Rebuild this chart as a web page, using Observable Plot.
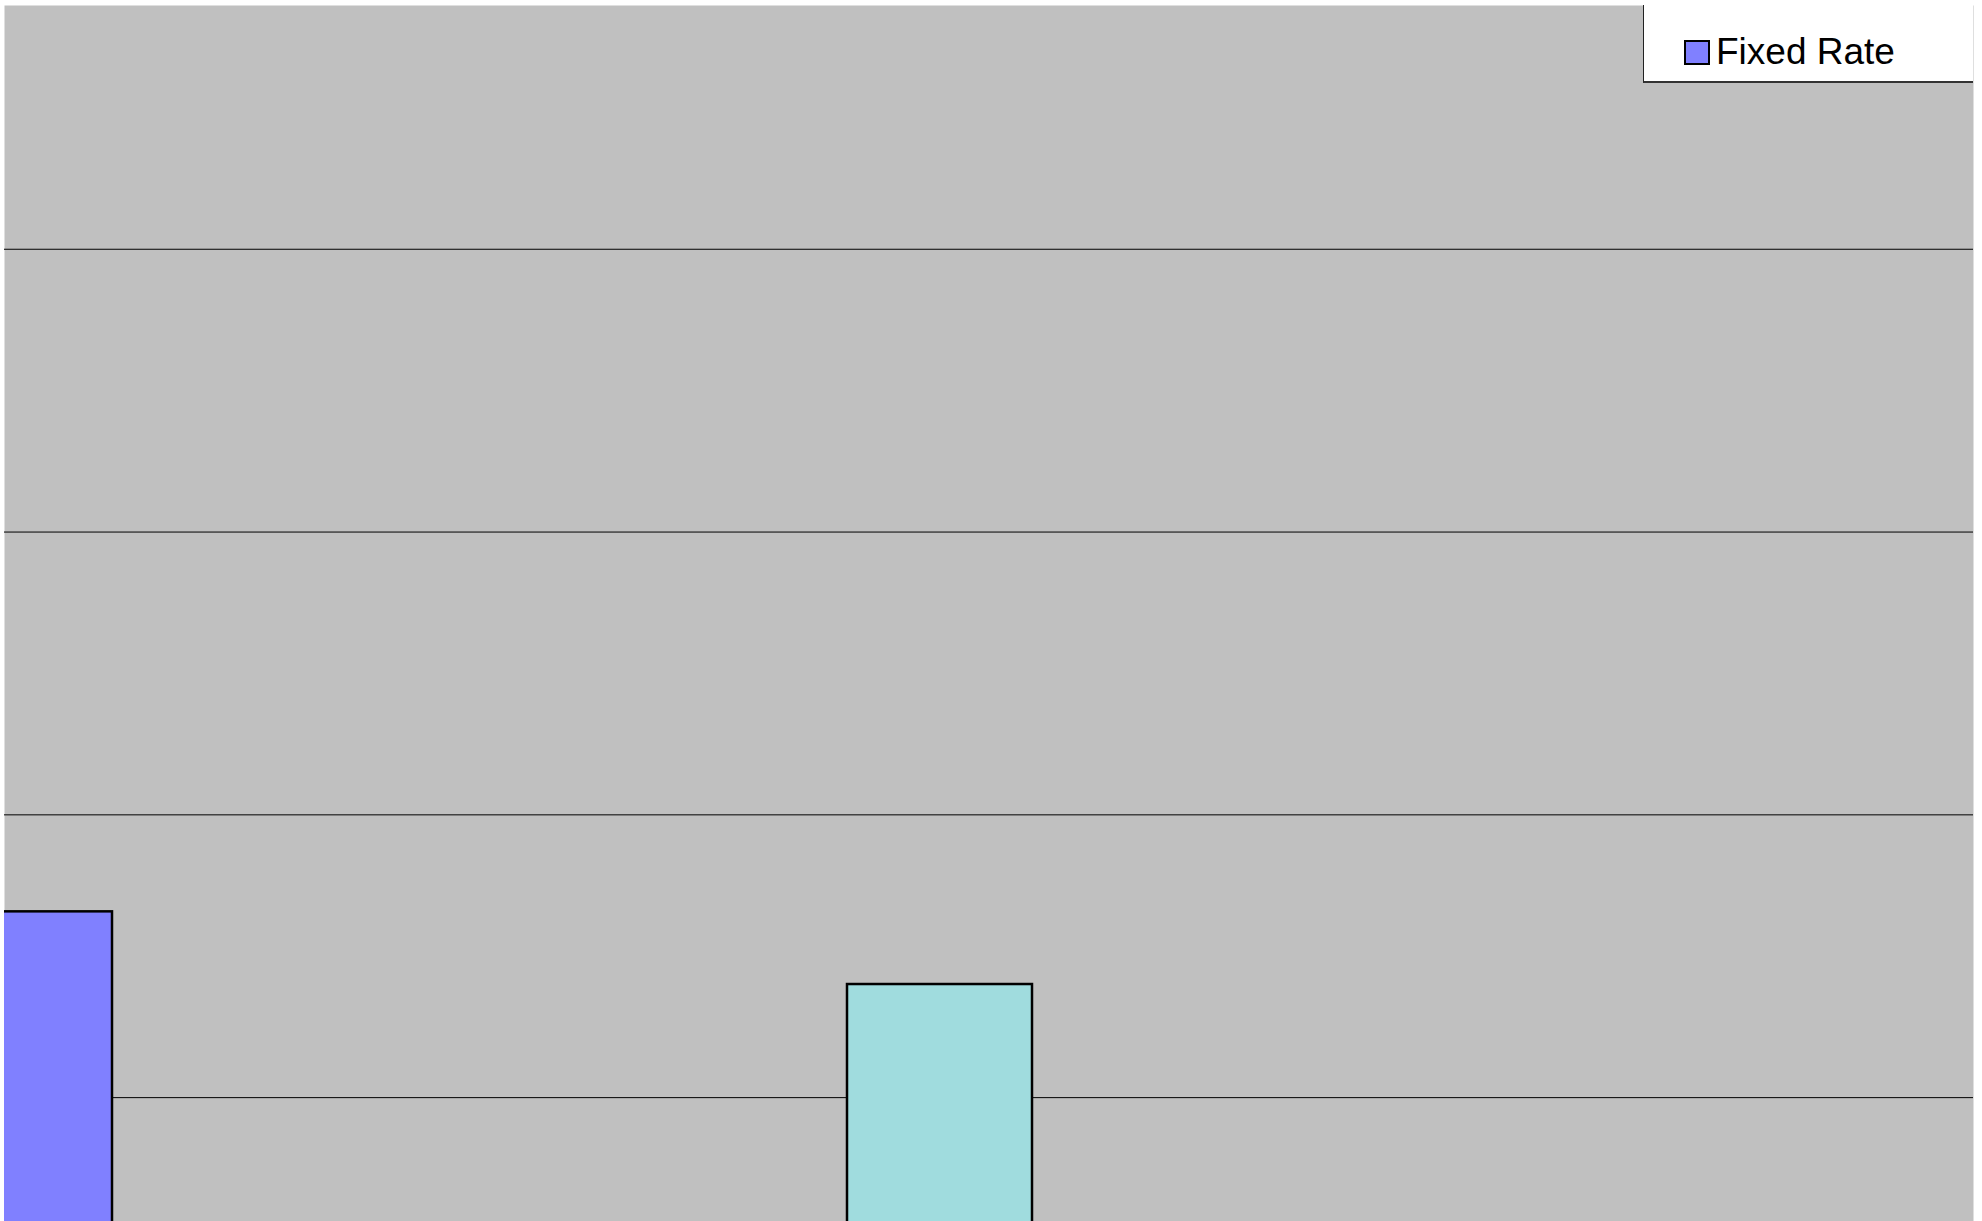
<!DOCTYPE html>
<html>
<head>
<meta charset="utf-8">
<script src="https://cdn.jsdelivr.net/npm/d3@7"></script>
<script src="https://cdn.jsdelivr.net/npm/@observablehq/plot@0.6"></script>
<style>
  html, body { margin: 0; padding: 0; background: #fff; overflow: hidden; }
  #wrap { position: relative; width: 1982px; height: 1221px; }
  #legend {
    position: absolute; left: 1643px; top: 5px; width: 330px; height: 78px;
    background: #fff; border-left: 1px solid #222; border-bottom: 2px solid #333;
    font-family: "Liberation Sans", Arial, sans-serif; font-size: 37px; color: #000;
    box-sizing: border-box;
  }
  .item { position: absolute; left: 40px; top: 26px; display: flex; align-items: center; white-space: nowrap; }
  .sw { width: 22px; height: 21px; border: 2px solid #000; margin-right: 6px; }
</style>
</head>
<body>
<div id="wrap"></div>
<script>
// Series (each drawn as one bar; only the first legend entry is visible in the crop)
const series = ["Fixed Rate", "Series 2"];
const values = [1.657, 1.40];
const colors = ["#8080ff", "#a0dcde"];
const gridTicks = [1, 2, 3, 4];
const legendItems = ["Fixed Rate"];

const data = series.map((s, i) => ({series: s, value: values[i], color: colors[i]}));

const chart = Plot.plot({
  width: 1982,
  height: 1221,
  marginLeft: 4,
  marginRight: 9,
  marginTop: 5,
  marginBottom: 0,
  style: {background: "transparent"},
  x: {type: "band", domain: series, range: [-73, 1032], paddingInner: 0.799, paddingOuter: 0, axis: null},
  y: {domain: [0.562, 4.862], axis: null},
  marks: [
    Plot.frame({fill: "#c0c0c0", stroke: null}),
    Plot.ruleY(gridTicks, {stroke: "#000", strokeWidth: 1, clip: "frame"}),
    Plot.barY(data, {x: "series", y: "value", fill: "color", stroke: "#000", strokeWidth: 2.5, clip: "frame"})
  ]
});
document.getElementById("wrap").appendChild(chart);

const legend = document.createElement("div");
legend.id = "legend";
legendItems.forEach((name, i) => {
  const item = document.createElement("div");
  item.className = "item";
  const sw = document.createElement("div");
  sw.className = "sw";
  sw.style.background = colors[i];
  const label = document.createElement("span");
  label.textContent = name;
  item.appendChild(sw);
  item.appendChild(label);
  legend.appendChild(item);
});
document.getElementById("wrap").appendChild(legend);
</script>
</body>
</html>
